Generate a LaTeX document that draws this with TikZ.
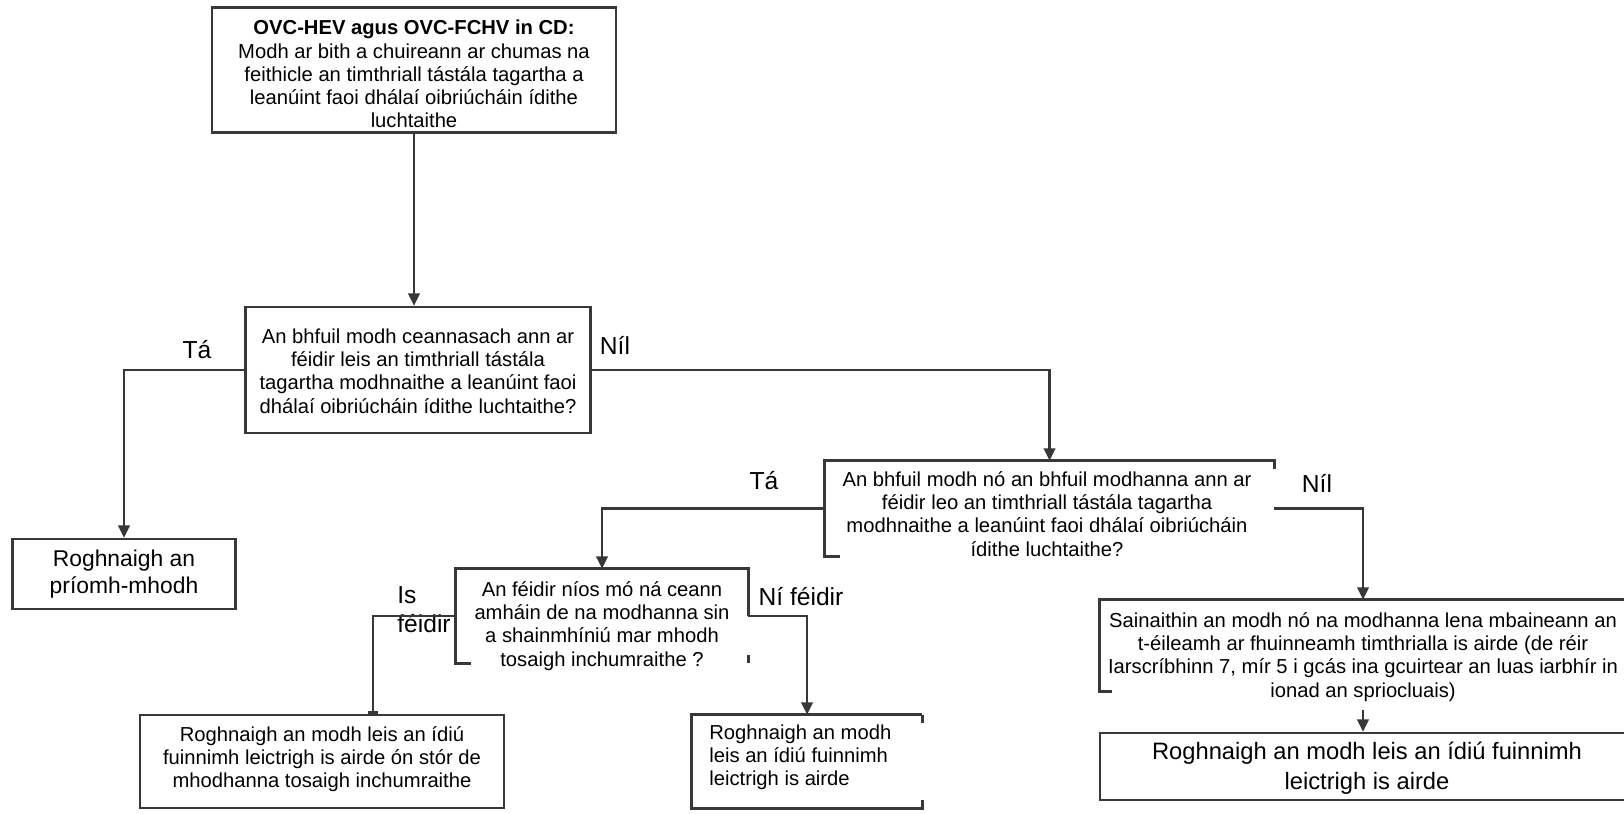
\documentclass[tikz,border=0pt]{standalone}
\usepackage{fontspec}
\setmainfont{Liberation Sans}
\usepackage{xcolor}
\usetikzlibrary{arrows.meta,calc}
\definecolor{linegray}{HTML}{383838}

\begin{document}
\begin{tikzpicture}[x=0.02cm, y=-0.02cm,
    frame/.style={draw=linegray, line width=1.4pt, inner sep=0pt},
    blank/.style={inner sep=0pt},
    edge/.style={draw=linegray, line width=1.4pt},
    txt/.style={align=center, inner sep=0pt, font=\fontsize{11.5}{13.2}\selectfont},
    bigtxt/.style={align=center, inner sep=0pt, font=\fontsize{13}{15}\selectfont},
    answer/.style={inner sep=0pt, font=\fontsize{14}{16.4}\selectfont},
    link/.style={linegray, line width=1.4pt, -{Triangle[length=7pt, width=6.5pt]}}
]
\useasboundingbox (0,0) rectangle (1624,814);

% frames
\node[frame, minimum width=8.08cm, minimum height=2.5cm] (start) at (414,70) {};
\node[frame, minimum width=6.9cm, minimum height=2.52cm] (main) at (418,370) {};
\node[frame, minimum width=4.46cm, minimum height=1.4cm] (primary) at (124,574) {};
\node[blank, minimum width=8.98cm, minimum height=1.9cm] (multi) at (1049.5,508.5) {};
\node[blank, minimum width=5.84cm, minimum height=1.88cm] (pick) at (602,616) {};
\node[blank, minimum width=10.52cm, minimum height=2.2cm] (ident) at (1363,655) {};
\node[frame, minimum width=7.28cm, minimum height=1.86cm] (store) at (322,761.5) {};
\node[blank, minimum width=4.6cm, minimum height=1.86cm] (low) at (807,761.5) {};
\node[frame, minimum width=10.68cm, minimum height=1.34cm] (final) at (1367,766.5) {};

% broken frame edges
\draw[edge] ($(multi.south west)+(15,0)$) -- (multi.south west) -- (multi.north west) -- (multi.north east) -- ++(0,8);
\draw[edge] ($(pick.south west)+(15,0)$) -- (pick.south west) -- (pick.north west) -- (pick.north east) -- (pick.east);
\draw[edge] (pick.south east) -- ++(0,-8);
\draw[edge] ($(ident.north west)+(12,92)$) -- ++(-12,0) -- (ident.north west) -- (ident.north east);
\draw[edge] (low.north east) -- (low.north west) -- (low.south west) -- (low.south east) -- ++(0,-8);
\draw[edge] (low.north east) -- ++(0,8);

% texts
\node[txt] (startt) at (414,74) {\textbf{OVC-HEV agus OVC-FCHV in CD:}\\Modh ar bith a chuireann ar chumas na\\feithicle an timthriall tástála tagartha a\\leanúint faoi dhálaí oibriúcháin ídithe\\luchtaithe};
\node[txt] (maint) at (418,371) {An bhfuil modh ceannasach ann ar\\féidir leis an timthriall tástála\\tagartha modhnaithe a leanúint faoi\\dhálaí oibriúcháin ídithe luchtaithe?};
\node[bigtxt] (primaryt) at (124,574) {Roghnaigh an\\príomh-mhodh};
\node[txt] (multit) at (1047,514) {An bhfuil modh nó an bhfuil modhanna ann ar\\féidir leo an timthriall tástála tagartha\\modhnaithe a leanúint faoi dhálaí oibriúcháin\\ídithe luchtaithe?};
\node[txt] (pickt) at (602,626) {An féidir níos mó ná ceann\\amháin de na modhanna sin\\a shainmhíniú mar mhodh\\tosaigh inchumraithe ?};
\node[txt] (identt) at (1363,657) {Sainaithin an modh nó na modhanna lena mbaineann an\\t-éileamh ar fhuinneamh timthrialla is airde (de réir\\Iarscríbhinn 7, mír 5 i gcás ina gcuirtear an luas iarbhír in\\ionad an spriocluais)};
\node[txt] (storet) at (322,759) {Roghnaigh an modh leis an ídiú\\fuinnimh leictrigh is airde ón stór de\\mhodhanna tosaigh inchumraithe};
\node[txt, align=left, anchor=west] (lowt) at (709,757) {Roghnaigh an modh\\leis an ídiú fuinnimh\\leictrigh is airde};
\node[bigtxt, font=\fontsize{13.5}{17}\selectfont] (finalt) at (1367,768) {Roghnaigh an modh leis an ídiú fuinnimh\\leictrigh is airde};

% answers
\node[answer] (yes1) at (197,350) {Tá};
\node[answer] (no1) at (615,345) {Níl};
\node[answer] (yes2) at (764,481) {Tá};
\node[answer] (no2) at (1317,483) {Níl};
\node[answer, align=left, anchor=west] (yes3) at (397,610) {Is\\féidir};
\node[answer] (no3) at (801,597) {Ní féidir};

% connectors
\draw[link] (start.south) -- (start.south |- main.north);
\draw[link] (main.west) -| (primary.north);
\draw[link] (main.east) -| (multi.north);
\draw[link] (multi.west) -| (pick.north);
\draw[link] (multi.east) -| (ident.north);
\draw[edge, -{Bar[width=6pt]}] (pick.west) -| ($(store.north)+(51,0)$);
\draw[link] (pick.east) -| (low.north);
\draw[link] (ident.south) -- (ident.south |- final.north);

\end{tikzpicture}
\end{document}
